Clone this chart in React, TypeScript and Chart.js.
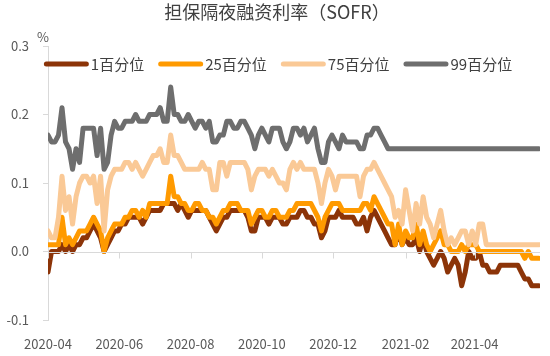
import React, { useEffect, useRef } from 'react';
import { Chart, registerables } from 'chart.js';

Chart.register(...registerables);

// ---------- text ----------
const TITLE = '担保隔夜融资利率（SOFR）';
const UNIT = '%';

// ---------- categories / ticks ----------
// observations every STEP_DAYS calendar days starting 2020-04-01 (x value = days since start)
const START_DATE = '2020-04-01';
const STEP_DAYS = 3;
const X_MAX_DAYS = 421;
const xTickDays = [0, 61, 122, 183, 244, 306, 365];
const xTickLabels = ['2020-04', '2020-06', '2020-08', '2020-10', '2020-12', '2021-02', '2021-04'];
const yTickValues = [-0.1, 0, 0.1, 0.2, 0.3];

const seriesNames = ['1百分位', '25百分位', '75百分位', '99百分位'];
const seriesColors = ['#8C3408', '#FF9A00', '#FAC996', '#6E6E6E'];

// ---------- series values (%) ----------
const p1 = [
  -0.03, 0.00, 0.00, 0.00, 0.01, 0.00, 0.01, 0.00, 0.01, 0.01,
  0.02, 0.02, 0.03, 0.04, 0.03, 0.02, 0.00, 0.01, 0.02, 0.03,
  0.03, 0.04, 0.04, 0.05, 0.05, 0.05, 0.05, 0.04, 0.05, 0.06,
  0.06, 0.06, 0.06, 0.07, 0.07, 0.07, 0.07, 0.06, 0.07, 0.06,
  0.05, 0.06, 0.06, 0.06, 0.06, 0.06, 0.05, 0.04, 0.03, 0.04,
  0.05, 0.05, 0.06, 0.06, 0.06, 0.06, 0.06, 0.05, 0.03, 0.03,
  0.05, 0.05, 0.05, 0.04, 0.05, 0.05, 0.05, 0.04, 0.04, 0.05,
  0.05, 0.05, 0.06, 0.06, 0.05, 0.05, 0.04, 0.04, 0.02, 0.03,
  0.05, 0.05, 0.05, 0.06, 0.05, 0.05, 0.05, 0.05, 0.04, 0.04,
  0.05, 0.03, 0.05, 0.06, 0.05, 0.04, 0.03, 0.02, 0.01, 0.01,
  0.03, 0.01, 0.02, 0.01, 0.01, 0.02, 0.00, 0.02, 0.00, -0.01,
  -0.02, -0.01, 0.00, -0.01, -0.03, -0.02, -0.01, -0.02, -0.05, -0.03,
  0.00, -0.01, -0.01, 0.00, -0.02, -0.02, -0.03, -0.03, -0.03, -0.02,
  -0.02, -0.02, -0.02, -0.02, -0.02, -0.03, -0.04, -0.04, -0.05, -0.05, -0.05,
];

const p25 = [
  0.01, 0.01, 0.01, 0.01, 0.05, 0.01, 0.02, 0.01, 0.02, 0.03,
  0.03, 0.03, 0.04, 0.05, 0.04, 0.03, 0.00, 0.02, 0.03, 0.04,
  0.04, 0.04, 0.05, 0.05, 0.06, 0.06, 0.05, 0.06, 0.05, 0.07,
  0.07, 0.07, 0.07, 0.07, 0.07, 0.11, 0.08, 0.08, 0.07, 0.07,
  0.06, 0.06, 0.07, 0.07, 0.06, 0.06, 0.05, 0.05, 0.04, 0.05,
  0.06, 0.06, 0.07, 0.07, 0.07, 0.06, 0.06, 0.06, 0.04, 0.05,
  0.06, 0.06, 0.05, 0.05, 0.06, 0.06, 0.05, 0.05, 0.05, 0.06,
  0.06, 0.07, 0.07, 0.07, 0.07, 0.07, 0.06, 0.05, 0.03, 0.05,
  0.06, 0.07, 0.07, 0.07, 0.06, 0.06, 0.06, 0.06, 0.06, 0.06,
  0.07, 0.07, 0.06, 0.08, 0.07, 0.06, 0.05, 0.04, 0.04, 0.01,
  0.04, 0.01, 0.03, 0.02, 0.02, 0.04, 0.01, 0.03, 0.01, 0.00,
  0.01, 0.02, 0.03, 0.01, 0.01, 0.00, 0.00, 0.00, 0.01, 0.00,
  0.01, 0.01, 0.01, 0.00, 0.00, 0.00, 0.00, 0.00, 0.00, 0.00,
  0.00, 0.00, 0.00, 0.00, 0.00, 0.00, -0.01, 0.00, -0.01, -0.01, -0.01,
];

const p75 = [
  0.03, 0.02, 0.02, 0.05, 0.11, 0.06, 0.08, 0.04, 0.08, 0.10,
  0.11, 0.11, 0.10, 0.11, 0.07, 0.11, 0.03, 0.09, 0.11, 0.12,
  0.12, 0.12, 0.13, 0.13, 0.12, 0.13, 0.12, 0.11, 0.12, 0.13,
  0.14, 0.14, 0.15, 0.13, 0.13, 0.17, 0.14, 0.14, 0.13, 0.12,
  0.12, 0.12, 0.12, 0.12, 0.13, 0.12, 0.12, 0.09, 0.09, 0.13,
  0.13, 0.11, 0.13, 0.13, 0.13, 0.13, 0.13, 0.12, 0.09, 0.11,
  0.12, 0.12, 0.12, 0.11, 0.12, 0.11, 0.10, 0.10, 0.09, 0.12,
  0.13, 0.12, 0.13, 0.12, 0.12, 0.12, 0.12, 0.10, 0.07, 0.10,
  0.12, 0.11, 0.09, 0.11, 0.11, 0.11, 0.11, 0.11, 0.11, 0.08,
  0.11, 0.12, 0.12, 0.13, 0.12, 0.11, 0.10, 0.09, 0.08, 0.05,
  0.06, 0.04, 0.09, 0.06, 0.03, 0.07, 0.04, 0.08, 0.05, 0.04,
  0.02, 0.04, 0.06, 0.03, 0.01, 0.02, 0.01, 0.02, 0.03, 0.03,
  0.01, 0.03, 0.01, 0.04, 0.04, 0.01, 0.01, 0.01, 0.01, 0.01,
  0.01, 0.01, 0.01, 0.01, 0.01, 0.01, 0.01, 0.01, 0.01, 0.01, 0.01,
];

const p99 = [
  0.17, 0.16, 0.16, 0.17, 0.21, 0.16, 0.15, 0.12, 0.15, 0.13,
  0.18, 0.18, 0.18, 0.18, 0.14, 0.18, 0.12, 0.13, 0.17, 0.19,
  0.18, 0.18, 0.19, 0.19, 0.19, 0.20, 0.19, 0.19, 0.19, 0.20,
  0.20, 0.20, 0.21, 0.19, 0.19, 0.24, 0.20, 0.20, 0.19, 0.19,
  0.20, 0.19, 0.18, 0.19, 0.19, 0.18, 0.19, 0.16, 0.16, 0.17,
  0.17, 0.19, 0.19, 0.18, 0.18, 0.19, 0.19, 0.18, 0.17, 0.15,
  0.17, 0.18, 0.17, 0.16, 0.18, 0.18, 0.18, 0.16, 0.15, 0.16,
  0.18, 0.18, 0.17, 0.18, 0.16, 0.17, 0.18, 0.15, 0.13, 0.13,
  0.16, 0.17, 0.16, 0.15, 0.17, 0.16, 0.16, 0.16, 0.16, 0.15,
  0.15, 0.17, 0.17, 0.18, 0.18, 0.17, 0.16, 0.15, 0.15, 0.15,
  0.15, 0.15, 0.15, 0.15, 0.15, 0.15, 0.15, 0.15, 0.15, 0.15,
  0.15, 0.15, 0.15, 0.15, 0.15, 0.15, 0.15, 0.15, 0.15, 0.15,
  0.15, 0.15, 0.15, 0.15, 0.15, 0.15, 0.15, 0.15, 0.15, 0.15,
  0.15, 0.15, 0.15, 0.15, 0.15, 0.15, 0.15, 0.15, 0.15, 0.15, 0.15,
];

// ---------- styling ----------
const FONT = "'Noto Sans CJK SC', 'Noto Sans', sans-serif";
const AXIS_COLOR = '#D9D9D9';
const TICK_COLOR = '#595959';
const TEXT_COLOR = '#404040';
const LINE_W = 5;
const TITLE_SIZE = 18;
const TITLE_X = 277;
const TITLE_Y = 12.5;
const LEGEND_FONT = 15;
const LEG_LINE = 45;
const LEG_TEXT_GAP = 2;
const LEG_ITEM_GAP = 14;
const LEG_CENTER_X = 278;
const LEG_Y = 64;

// title + single-row legend laid over the top of the plot area (as in the reference)
const headerPlugin = {
  id: 'header',
  afterDraw(chart: any) {
    const { ctx } = chart;
    ctx.save();
    ctx.fillStyle = TEXT_COLOR;
    ctx.font = `${TITLE_SIZE}px ${FONT}`;
    ctx.textAlign = 'center';
    ctx.textBaseline = 'middle';
    ctx.fillText(TITLE, TITLE_X, TITLE_Y);

    ctx.font = `${LEGEND_FONT}px ${FONT}`;
    const items = chart.data.datasets.map((ds: any) => ({
      label: ds.label as string,
      color: ds.borderColor as string,
      w: ctx.measureText(ds.label).width as number,
    }));
    const total =
      items.reduce((s: number, it: any) => s + LEG_LINE + LEG_TEXT_GAP + it.w, 0) +
      LEG_ITEM_GAP * (items.length - 1);
    let x = LEG_CENTER_X - total / 2;
    items.forEach((it: any) => {
      ctx.strokeStyle = it.color;
      ctx.lineWidth = LINE_W;
      ctx.lineCap = 'round';
      ctx.beginPath();
      ctx.moveTo(x + LINE_W / 2, LEG_Y);
      ctx.lineTo(x + LEG_LINE - LINE_W / 2, LEG_Y);
      ctx.stroke();
      ctx.fillStyle = TEXT_COLOR;
      ctx.textAlign = 'left';
      ctx.textBaseline = 'middle';
      ctx.fillText(it.label, x + LEG_LINE + LEG_TEXT_GAP, LEG_Y);
      x += LEG_LINE + LEG_TEXT_GAP + it.w + LEG_ITEM_GAP;
    });

    const { chartArea } = chart;
    ctx.fillStyle = TICK_COLOR;
    ctx.font = `13px ${FONT}`;
    ctx.textAlign = 'center';
    ctx.fillText(UNIT, chartArea.left - 5, chartArea.top - 9);
    ctx.restore();
  },
};

// zero line with month tick marks (the visible x axis sits at y = 0)
const zeroAxisPlugin = {
  id: 'zeroAxis',
  afterDatasetsDraw(chart: any) {
    const { ctx, chartArea, scales } = chart;
    const y0 = Math.round(scales.y.getPixelForValue(0)) + 0.5;
    ctx.save();
    ctx.strokeStyle = AXIS_COLOR;
    ctx.lineWidth = 1;
    ctx.beginPath();
    ctx.moveTo(chartArea.left, y0);
    ctx.lineTo(chartArea.right, y0);
    xTickDays.forEach((d) => {
      const x = Math.round(scales.x.getPixelForValue(d)) + 0.5;
      ctx.moveTo(x, y0);
      ctx.lineTo(x, y0 + 6);
    });
    ctx.stroke();
    ctx.restore();
  },
};

export default function App() {
  const ref = useRef<HTMLCanvasElement>(null);

  useEffect(() => {
    const canvas = ref.current;
    if (!canvas) return;
    const allSeries = [p1, p25, p75, p99];
    const datasets = allSeries.map((vals, k) => ({
      label: seriesNames[k],
      data: vals.map((v, i) => ({ x: i * STEP_DAYS, y: v })),
      borderColor: seriesColors[k],
      backgroundColor: seriesColors[k],
      borderWidth: LINE_W,
      pointRadius: 0,
      pointHoverRadius: 0,
      tension: 0,
      fill: false,
      borderJoinStyle: 'round' as const,
      borderCapStyle: 'round' as const,
      order: allSeries.length - k,
    }));

    const chart = new Chart(canvas, {
      type: 'line',
      data: { datasets },
      plugins: [zeroAxisPlugin, headerPlugin],
      options: {
        responsive: false,
        animation: false,
        events: [],
        layout: { padding: { left: 0, right: 10, top: 46, bottom: 0 } },
        scales: {
          x: {
            type: 'linear',
            min: 0,
            max: X_MAX_DAYS,
            grid: { display: false, drawTicks: false },
            border: { display: false },
            afterBuildTicks: (s: any) => {
              s.ticks = xTickDays.map((v) => ({ value: v }));
            },
            afterFit: (s: any) => {
              s.height = 36;
            },
            ticks: {
              autoSkip: false,
              maxRotation: 0,
              padding: 16,
              color: TICK_COLOR,
              font: { size: 13, family: FONT },
              callback: (v: any) => {
                const idx = xTickDays.indexOf(Number(v));
                return idx >= 0 ? xTickLabels[idx] : '';
              },
            },
          },
          y: {
            type: 'linear',
            min: yTickValues[0],
            max: yTickValues[yTickValues.length - 1],
            afterBuildTicks: (s: any) => {
              s.ticks = yTickValues.map((v) => ({ value: v }));
            },
            afterFit: (s: any) => {
              s.width = 48;
            },
            grid: { display: true, drawOnChartArea: false, drawTicks: true, tickLength: 5, color: AXIS_COLOR },
            border: { display: true, color: AXIS_COLOR },
            ticks: {
              padding: 14,
              color: TICK_COLOR,
              font: { size: 13, family: FONT },
              callback: (v: any) => Number(v).toFixed(1),
            },
          },
        },
        plugins: {
          title: { display: false },
          legend: { display: false },
          tooltip: { enabled: false },
        },
      } as any,
    });
    return () => chart.destroy();
  }, []);

  return (
    <div style={{ position: 'absolute', left: 0, top: 0, width: 550, height: 356, background: '#fff' }}>
      <canvas ref={ref} width={550} height={356} style={{ width: 550, height: 356, display: 'block' }} />
    </div>
  );
}
